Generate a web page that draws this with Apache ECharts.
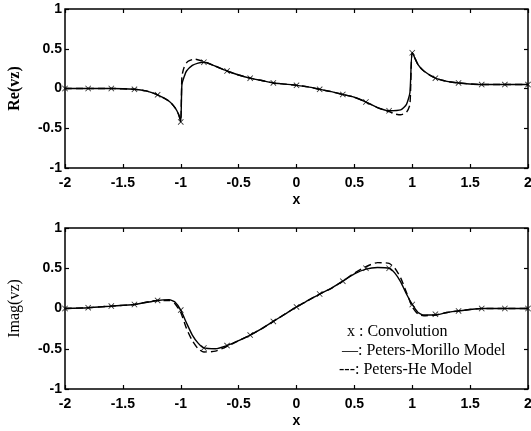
<!DOCTYPE html>
<html>
<head>
<meta charset="utf-8">
<script src="https://cdn.jsdelivr.net/npm/echarts@6/dist/echarts.min.js"></script>
<style>
  html, body { margin: 0; padding: 0; background: #fff; }
  #main { width: 531px; height: 431px; }
</style>
</head>
<body>
<div id="main"></div>
<script>
// convolution samples (x markers)
const convX = [-2, -1.8, -1.6, -1.4, -1.2, -1.0, -0.8, -0.6, -0.4, -0.2, 0, 0.2, 0.4, 0.6, 0.8, 1.0, 1.2, 1.4, 1.6, 1.8, 2.0];
const convRe = [0, 0, 0, -0.01, -0.08, -0.42, 0.33, 0.22, 0.13, 0.07, 0.04, -0.01, -0.075, -0.17, -0.28, 0.45, 0.13, 0.07, 0.05, 0.05, 0.05];
const convIm = [0, 0.01, 0.03, 0.05, 0.1, -0.02, -0.49, -0.46, -0.33, -0.16, 0.02, 0.18, 0.34, 0.5, 0.5, 0.05, -0.07, -0.03, 0, 0, 0];

// Peters-Morillo model (solid), Re part
const pmReX = [-2, -1.8, -1.6, -1.4, -1.3, -1.2, -1.1, -1.05, -1.02, -1.0, -0.99, -0.97, -0.95, -0.9, -0.85, -0.8, -0.7, -0.6, -0.5, -0.4, -0.3, -0.2, -0.1, 0, 0.1, 0.2, 0.3, 0.4, 0.5, 0.6, 0.7, 0.8, 0.9, 0.95, 0.98, 1.0, 1.05, 1.1, 1.2, 1.3, 1.4, 1.6, 1.8, 2.0];
const pmReY = [0, 0, 0, -0.01, -0.03, -0.08, -0.16, -0.24, -0.32, -0.42, 0.05, 0.15, 0.22, 0.29, 0.32, 0.33, 0.28, 0.22, 0.17, 0.13, 0.10, 0.07, 0.055, 0.04, 0.02, -0.01, -0.04, -0.075, -0.11, -0.17, -0.24, -0.28, -0.27, -0.2, -0.05, 0.45, 0.3, 0.22, 0.13, 0.09, 0.07, 0.05, 0.05, 0.05];
// Peters-He model (dashed), Re part
const phReX = [-2, -1.8, -1.6, -1.4, -1.3, -1.2, -1.1, -1.05, -1.02, -1.0, -0.99, -0.97, -0.94, -0.88, -0.8, -0.7, -0.6, -0.5, -0.4, -0.3, -0.2, -0.1, 0, 0.1, 0.2, 0.3, 0.4, 0.5, 0.6, 0.7, 0.8, 0.85, 0.9, 0.95, 0.98, 1.0, 1.05, 1.1, 1.2, 1.3, 1.4, 1.6, 1.8, 2.0];
const phReY = [0, 0, 0, -0.01, -0.03, -0.08, -0.16, -0.24, -0.32, -0.40, 0.15, 0.27, 0.34, 0.37, 0.34, 0.28, 0.22, 0.17, 0.13, 0.10, 0.07, 0.055, 0.04, 0.02, -0.01, -0.04, -0.075, -0.11, -0.17, -0.24, -0.29, -0.32, -0.33, -0.3, -0.2, 0.45, 0.3, 0.22, 0.13, 0.09, 0.07, 0.05, 0.05, 0.05];

// Imag part
const pmImX = [-2, -1.8, -1.6, -1.4, -1.2, -1.1, -1.05, -1.0, -0.95, -0.9, -0.85, -0.8, -0.7, -0.6, -0.5, -0.4, -0.3, -0.2, -0.1, 0, 0.1, 0.2, 0.3, 0.4, 0.5, 0.6, 0.7, 0.8, 0.85, 0.9, 0.95, 1.0, 1.05, 1.1, 1.2, 1.3, 1.4, 1.6, 1.8, 2.0];
const pmImY = [0, 0.01, 0.03, 0.05, 0.1, 0.11, 0.08, -0.02, -0.18, -0.33, -0.43, -0.49, -0.5, -0.46, -0.4, -0.33, -0.25, -0.16, -0.07, 0.02, 0.1, 0.18, 0.25, 0.34, 0.43, 0.49, 0.51, 0.5, 0.44, 0.33, 0.18, 0.05, -0.05, -0.08, -0.08, -0.05, -0.03, 0, 0, 0];
const phImX = [-2, -1.8, -1.6, -1.4, -1.2, -1.1, -1.05, -1.0, -0.95, -0.9, -0.85, -0.8, -0.7, -0.6, -0.5, -0.4, -0.3, -0.2, -0.1, 0, 0.1, 0.2, 0.3, 0.4, 0.5, 0.6, 0.7, 0.8, 0.85, 0.9, 0.95, 1.0, 1.05, 1.1, 1.2, 1.3, 1.4, 1.6, 1.8, 2.0];
const phImY = [0, 0.01, 0.03, 0.05, 0.1, 0.1, 0.06, -0.05, -0.25, -0.4, -0.5, -0.54, -0.53, -0.47, -0.4, -0.33, -0.25, -0.16, -0.07, 0.02, 0.1, 0.18, 0.25, 0.34, 0.44, 0.52, 0.57, 0.56, 0.5, 0.38, 0.2, 0.02, -0.07, -0.09, -0.08, -0.05, -0.03, 0, 0, 0];

const legendLines = ['x : Convolution', '\u2014: Peters-Morillo Model', '---: Peters-He Model'];

const pair = (xs, ys) => xs.map((x, i) => [x, ys[i]]);
const crossSymbol = 'path://M0,1L1,0L5,4L9,0L10,1L6,5L10,9L9,10L5,6L1,10L0,9L4,5Z';

const tickFont = { fontFamily: 'Liberation Sans', fontWeight: 'bold', fontSize: 14, color: '#000' };
const tickStyle = { inside: true, length: 4, lineStyle: { color: '#000', width: 1.2 } };

function mainX(gi) {
  return {
    type: 'value', gridIndex: gi, min: -2, max: 2, interval: 0.5, position: 'bottom',
    axisLine: { show: false, onZero: false },
    axisTick: tickStyle,
    axisLabel: Object.assign({ margin: 8 }, tickFont),
    splitLine: { show: false },
    name: 'x', nameLocation: 'middle', nameGap: 25,
    nameTextStyle: { fontFamily: 'Liberation Sans', fontWeight: 'bold', fontSize: 14, color: '#000' }
  };
}
function topX(gi) {
  return {
    type: 'value', gridIndex: gi, min: -2, max: 2, interval: 0.5, position: 'top',
    axisLine: { show: false, onZero: false },
    axisTick: tickStyle,
    axisLabel: { show: false }, splitLine: { show: false }
  };
}
function mainY(gi, name, bold) {
  return {
    type: 'value', gridIndex: gi, min: -1, max: 1, interval: 0.5, position: 'left',
    axisLine: { show: false, onZero: false },
    axisTick: tickStyle,
    axisLabel: Object.assign({ margin: 3, formatter: v => String(v) }, tickFont),
    splitLine: { show: false },
    name: name, nameLocation: 'middle', nameGap: 42,
    nameTextStyle: { fontFamily: 'Liberation Serif', fontWeight: bold ? 'bold' : 'normal', fontSize: 16, color: '#000' }
  };
}
function rightY(gi) {
  return {
    type: 'value', gridIndex: gi, min: -1, max: 1, interval: 0.5, position: 'right',
    axisLine: { show: false, onZero: false },
    axisTick: tickStyle,
    axisLabel: { show: false }, splitLine: { show: false }
  };
}

function lineSeries(xi, yi, data, dashed) {
  return {
    type: 'line', xAxisIndex: xi, yAxisIndex: yi, data: data,
    showSymbol: false, smooth: 0.2, animation: false,
    lineStyle: { color: '#000', width: 1.4, type: dashed ? [7, 4] : 'solid' }
  };
}
function markSeries(xi, yi, data) {
  return {
    type: 'scatter', xAxisIndex: xi, yAxisIndex: yi, data: data,
    symbol: crossSymbol, symbolSize: 6, animation: false,
    itemStyle: { color: '#000' }
  };
}

const chart = echarts.init(document.getElementById('main'), null, { renderer: 'canvas' });

chart.setOption({
  backgroundColor: '#fff',
  animation: false,
  grid: [
    { left: 65, top: 9, width: 463, height: 159, show: true, borderColor: '#000', borderWidth: 1.5, backgroundColor: 'transparent', outerBoundsMode: 'none' },
    { left: 65, top: 228, width: 463, height: 161, show: true, borderColor: '#000', borderWidth: 1.5, backgroundColor: 'transparent', outerBoundsMode: 'none' }
  ],
  xAxis: [mainX(0), topX(0), mainX(1), topX(1)],
  yAxis: [mainY(0, 'Re(vz)', true), rightY(0), mainY(1, 'Imag(vz)', false), rightY(1)],
  series: [
    lineSeries(0, 0, pair(pmReX, pmReY), false),
    lineSeries(0, 0, pair(phReX, phReY), true),
    markSeries(0, 0, pair(convX, convRe)),
    lineSeries(2, 2, pair(pmImX, pmImY), false),
    lineSeries(2, 2, pair(phImX, phImY), true),
    markSeries(2, 2, pair(convX, convIm))
  ],
  graphic: legendLines.map((t, i) => ({
    type: 'text',
    left: [347, 342, 339][i],
    top: [324, 343, 362][i],
    style: { text: t, fontFamily: 'Liberation Serif', fontSize: 16, fill: '#000' }
  }))
});
</script>
</body>
</html>
